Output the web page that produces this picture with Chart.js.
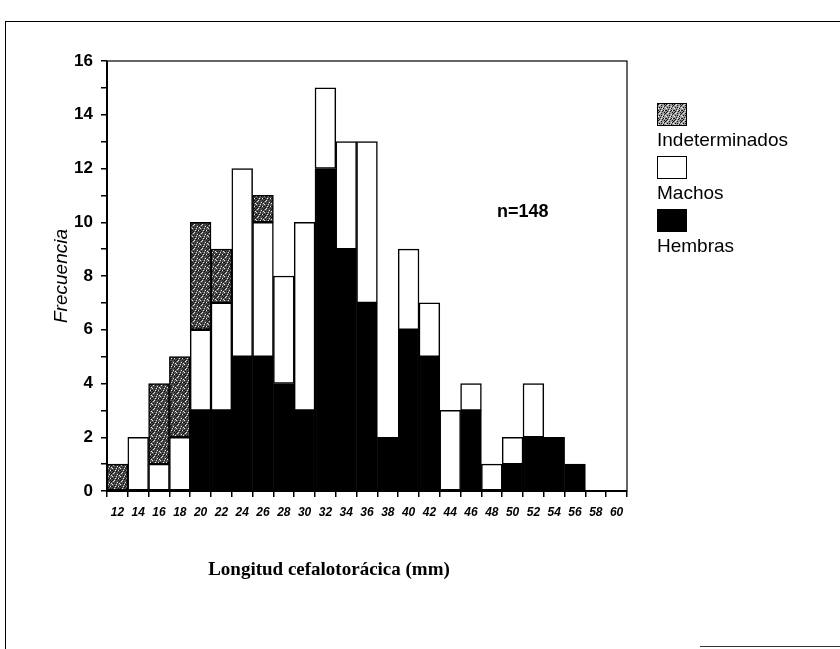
<!DOCTYPE html>
<html>
<head>
<meta charset="utf-8">
<script src="https://cdn.jsdelivr.net/npm/chart.js@4.4.1/dist/chart.umd.min.js"></script>
<style>
  html, body { margin: 0; padding: 0; background: #fff; }
  #wrap { position: relative; width: 840px; height: 649px; overflow: hidden; }
  #frame { position: absolute; left: 5px; top: 21px; width: 900px; height: 700px;
           border-left: 1.5px solid #000; border-top: 1.5px solid #000; }
  #frameBottom { position: absolute; left: 700px; top: 646px; width: 140px; height: 0;
                 border-top: 1.5px solid #333; }
  #legend { position: absolute; left: 657px; top: 103px; font-family: 'Liberation Sans', Arial, sans-serif;
            font-size: 19px; color: #000; }
  .box { width: 30px; height: 23px; border: 1.5px solid #000; box-sizing: border-box; }
  .lab { height: 26px; line-height: 28px; margin-bottom: 4px; }
  #nlabel { position: absolute; left: 497px; top: 201px; font-family: 'Liberation Sans', Arial, sans-serif;
            font-weight: bold; font-size: 18px; color: #000; }
</style>
</head>
<body>
<div id="wrap">
  <canvas id="histo" width="840" height="649"></canvas>
  <div id="frame"></div>
  <div id="frameBottom"></div>
  <div id="nlabel">n=148</div>
  <div id="legend"></div>
</div>
<script>
// Longitud cefalotorácica (mm), clases de 2 mm
const categories = ['12','14','16','18','20','22','24','26','28','30','32','34','36',
                    '38','40','42','44','46','48','50','52','54','56','58','60'];
const hembras = [0,0,0,0,3,3,5,5,4,3,12,9,7,2,6,5,0,3,0,1,2,2,1,0,0];
const machos = [0,2,1,2,3,4,7,5,4,7,3,4,6,0,3,2,3,1,1,1,2,0,0,0,0];
const indeterminados = [1,0,3,3,4,2,0,1,0,0,0,0,0,0,0,0,0,0,0,0,0,0,0,0,0];
const yTicks = [0,2,4,6,8,10,12,14,16];

// stippled grey like the scanned pattern
function makeSpeckle(base) {
    const c = document.createElement('canvas');
    c.width = 8; c.height = 8;
    const g = c.getContext('2d');
    g.fillStyle = base;
    g.fillRect(0, 0, 8, 8);
    g.fillStyle = '#111';
    [[0,0],[3,1],[6,2],[1,3],[5,4],[2,5],[7,6],[4,7],[0,6],[6,0],[3,3],[7,1],[1,7],[5,6]].forEach(p => g.fillRect(p[0], p[1], 1, 1));
    g.fillStyle = '#e8e8e8';
    [[2,0],[5,2],[0,4],[3,6],[7,3],[4,4],[1,1],[6,6]].forEach(p => g.fillRect(p[0], p[1], 1, 1));
    return c;
}
const speckle = makeSpeckle('#505050');
const ctx = document.getElementById('histo').getContext('2d');
const greyFill = ctx.createPattern(speckle, 'repeat');

// legend (HTML), order as in the original
const legend = document.getElementById('legend');
[['Indeterminados', 'url(' + makeSpeckle('#9a9a9a').toDataURL() + ')'], ['Machos', '#fff'], ['Hembras', '#000']].forEach(([name, bg]) => {
    const b = document.createElement('div');
    b.className = 'box';
    b.style.background = bg;
    const t = document.createElement('div');
    t.className = 'lab';
    t.textContent = name;
    legend.appendChild(b);
    legend.appendChild(t);
});

const boxPlugin = {
    id: 'boxPlugin',
    afterDraw(chart) {
        const { ctx, chartArea: a } = chart;
        ctx.save();
        ctx.strokeStyle = '#000';
        ctx.lineWidth = 1.2;
        ctx.strokeRect(a.left, a.top, a.right - a.left, a.bottom - a.top);
        ctx.lineWidth = 2;
        ctx.beginPath();
        ctx.moveTo(a.left, a.top);
        ctx.lineTo(a.left, a.bottom);
        ctx.lineTo(a.right, a.bottom);
        ctx.stroke();
        // x axis title
        ctx.fillStyle = '#000';
        ctx.font = 'bold 19px "Liberation Serif", "Times New Roman", serif';
        ctx.textAlign = 'center';
        ctx.textBaseline = 'middle';
        ctx.fillText('Longitud cefalotorácica (mm)', 329, 570);
        ctx.restore();
    }
};

const barStyle = { borderColor: '#000', borderWidth: 1.5, borderSkipped: false,
                   categoryPercentage: 1.0, barPercentage: 1.0 };

new Chart(ctx, {
    type: 'bar',
    data: {
        labels: categories,
        datasets: [
            Object.assign({ label: 'Hembras', data: hembras.map(v => v || null), backgroundColor: '#000' }, barStyle),
            Object.assign({ label: 'Machos', data: machos.map(v => v || null), backgroundColor: '#fff' }, barStyle),
            Object.assign({ label: 'Indeterminados', data: indeterminados.map(v => v || null), backgroundColor: greyFill }, barStyle)
        ]
    },
    options: {
        responsive: false,
        animation: false,
        devicePixelRatio: 1,
        layout: { padding: { left: 0, top: 61, right: 213, bottom: 118 } },
        plugins: { legend: { display: false }, tooltip: { enabled: false } },
        scales: {
            x: {
                stacked: true,
                afterFit: s => { s.height = 40; },
                border: { display: false },
                grid: { drawOnChartArea: false, tickLength: 6, color: '#000', lineWidth: 1.5 },
                ticks: { color: '#000', padding: 8, maxRotation: 0, autoSkip: false,
                         font: { family: "'Liberation Sans Narrow', 'Liberation Sans', Arial", size: 12, weight: 'bold', style: 'italic' } }
            },
            y: {
                stacked: true,
                min: 0, max: 16,
                afterFit: s => { s.width = 107; },
                border: { display: false },
                grid: { drawOnChartArea: false, tickLength: 6, color: '#000', lineWidth: 1.5 },
                ticks: { stepSize: 1, color: '#000', padding: 8,
                         callback: v => yTicks.includes(v) ? String(v) : '',
                         font: { family: "'Liberation Sans Narrow', 'Liberation Sans', Arial", size: 17, weight: 'bold' } },
                title: { display: true, text: 'Frecuencia', color: '#000', padding: { top: 50, bottom: 0 },
                         font: { family: "'Liberation Sans', Arial", size: 19, style: 'italic' } }
            }
        }
    },
    plugins: [boxPlugin]
});
</script>
</body>
</html>
